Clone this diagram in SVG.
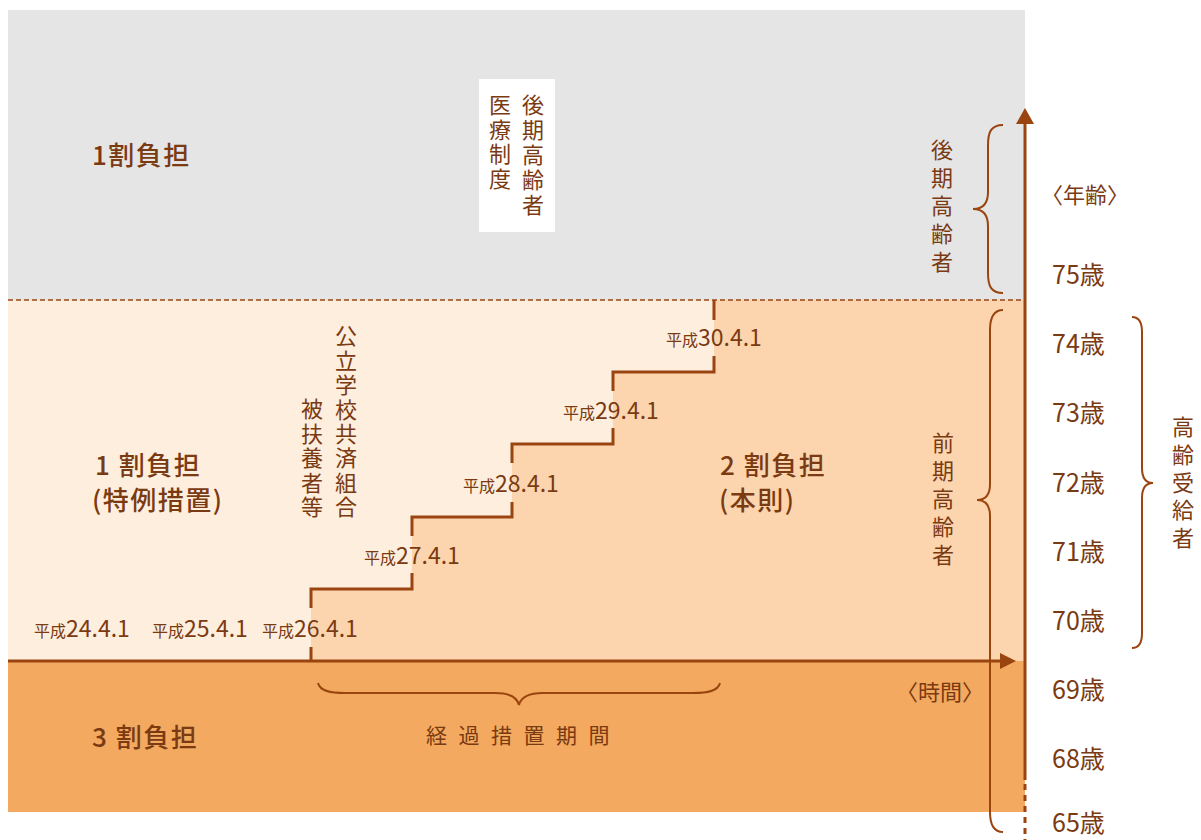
<svg xmlns="http://www.w3.org/2000/svg" width="1201" height="840" viewBox="0 0 1201 840">
<style>
.t{font-family:"Noto Sans CJK JP","Noto Sans",sans-serif;fill:#7a3a12}
.b{font-weight:500;font-size:26px;letter-spacing:1.5px}
.v{font-size:22px;writing-mode:vertical-rl;text-anchor:start}
.age{font-size:25px}
.s{font-size:16px}
.n{font-size:23px}
.ln{stroke:#9a4510;fill:none}
</style>
<rect width="1201" height="840" fill="#ffffff"/>
<g id="bands">
<rect x="8" y="10" width="1017" height="290" fill="#e5e5e5"/>
<rect x="8" y="300" width="1017" height="361" fill="#fdeede"/>
<path d="M311,661 L311,589 L412,589 L412,517 L512,517 L512,444 L613,444 L613,372 L714,372 L714,300 L1025,300 L1025,661 Z" fill="#fcd5ae"/>
<rect x="8" y="661" width="1017" height="151" fill="#f3a95f"/>
</g>
<g id="connectors">
<line x1="8" y1="300" x2="1025" y2="300" stroke="#9a4510" stroke-width="1.5" stroke-dasharray="5,3"/>
<path class="ln" stroke-width="3" d="M714,300V320M714,356V372H613V391M613,428V444H512V463M512,502V517H412V536M412,573V589H311V608M311,647V661"/>
<line x1="8" y1="661" x2="1002" y2="661" stroke="#9a4510" stroke-width="3"/>
<path d="M1000,653L1016,661L1000,669Z" fill="#9a4510"/>
<line x1="1025" y1="122" x2="1025" y2="780" stroke="#9a4510" stroke-width="3"/>
<line x1="1025" y1="784" x2="1025" y2="840" stroke="#9a4510" stroke-width="3" stroke-dasharray="6,5"/>
<path d="M1016,124L1025,108L1034,124Z" fill="#9a4510"/>
<path class="ln" stroke-width="2" d="M1003,125 C991,125 988,132 988,145 L988,192 C988,204 982,209 973,209 C982,209 988,214 988,226 L988,273 C988,286 991,293 1003,293"/>
<path class="ln" stroke-width="2" d="M1003,310 C993,310 990,318 990,330 L990,484 C990,495 985,500 977,500 C985,500 990,505 990,516 L990,812 C990,824 993,832 1003,832"/>
<path class="ln" stroke-width="2" d="M1132,317 C1139,317 1142,322 1142,332 L1142,468 C1142,478 1146,483 1153,483 C1146,483 1142,488 1142,498 L1142,633 C1142,643 1139,648 1132,648"/>
<path class="ln" stroke-width="2" d="M318,683 C320,691 330,693 345,693 L495,693 C510,693 517,697 519,705 C521,697 528,693 543,693 L693,693 C708,693 718,691 720,683"/>
</g>
<g id="node-late-1">
<text class="t b" x="92" y="165">1割負担</text>
</g>
<g id="node-late-box">
<rect x="479" y="79" width="76" height="153" fill="#ffffff"/>
<text class="t v" x="533" y="94" letter-spacing="3">後期高齢者</text>
<text class="t v" x="500" y="94" letter-spacing="2.5">医療制度</text>
</g>
<g id="node-special">
<text class="t b" x="95" y="475">1 割負担<tspan x="92" dy="35">(特例措置)</tspan></text>
</g>
<g id="node-school">
<text class="t v" x="346" y="325" letter-spacing="2.4">公立学校共済組合</text>
<text class="t v" x="312" y="398" letter-spacing="2.5">被扶養者等</text>
</g>
<g id="node-standard">
<text class="t b" x="720" y="475">2 割負担<tspan x="719" dy="35">(本則)</tspan></text>
</g>
<g id="node-three">
<text class="t b" x="92" y="747">3 割負担</text>
</g>
<g id="node-dates">
<text class="t" x="34" y="637"><tspan class="s">平成</tspan><tspan class="n">24.4.1</tspan></text>
<text class="t" x="152" y="637"><tspan class="s">平成</tspan><tspan class="n">25.4.1</tspan></text>
<text class="t" x="262" y="637"><tspan class="s">平成</tspan><tspan class="n">26.4.1</tspan></text>
<text class="t" x="364" y="564"><tspan class="s">平成</tspan><tspan class="n">27.4.1</tspan></text>
<text class="t" x="463" y="492"><tspan class="s">平成</tspan><tspan class="n">28.4.1</tspan></text>
<text class="t" x="563" y="419"><tspan class="s">平成</tspan><tspan class="n">29.4.1</tspan></text>
<text class="t" x="666" y="346"><tspan class="s">平成</tspan><tspan class="n">30.4.1</tspan></text>
</g>
<g id="node-period">
<text class="t" x="426" y="743" font-size="21" letter-spacing="11.5">経過措置期間</text>
<text class="t" x="896" y="700" font-size="22">〈時間〉</text>
</g>
<g id="node-late-label">
<text class="t v" x="942" y="139" letter-spacing="6">後期高齢者</text>
</g>
<g id="node-early-label">
<text class="t v" x="943" y="432" letter-spacing="6">前期高齢者</text>
</g>
<g id="node-recipient">
<text class="t v" x="1183" y="416" letter-spacing="5.7">高齢受給者</text>
</g>
<g id="node-ages">
<text class="t" x="1041" y="203" font-size="22">〈年齢〉</text>
<text class="t age" x="1052" y="284">75歳</text>
<text class="t age" x="1052" y="353">74歳</text>
<text class="t age" x="1052" y="422">73歳</text>
<text class="t age" x="1052" y="492">72歳</text>
<text class="t age" x="1052" y="561">71歳</text>
<text class="t age" x="1052" y="630">70歳</text>
<text class="t age" x="1052" y="699">69歳</text>
<text class="t age" x="1052" y="768">68歳</text>
<text class="t age" x="1052" y="832">65歳</text>
</g>
</svg>
